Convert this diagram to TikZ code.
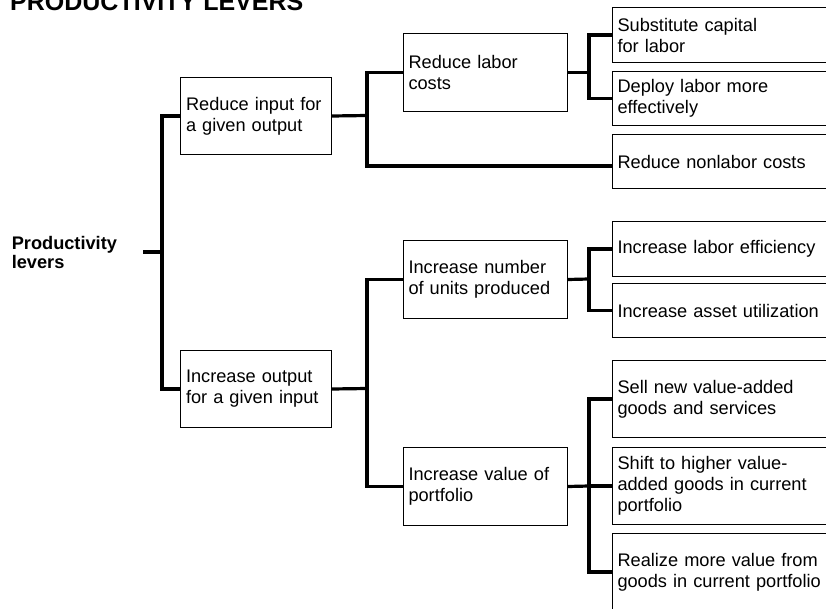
\documentclass[tikz,border=0pt]{standalone}
\usepackage{fontspec}
\setmainfont{Liberation Sans}
\begin{document}
\begin{tikzpicture}[x=1pt,y=-1pt,
  every node/.style={font=\fontsize{18.2pt}{21pt}\selectfont, text=black},
  box/.style={draw=black, line width=1pt, rectangle, anchor=north west,
    inner xsep=5.5pt, inner ysep=0pt, align=left},
  lvlone/.style={box, minimum width=151pt, text width=140pt, minimum height=77pt},
  lvltwo/.style={box, minimum width=164.5pt, text width=153.5pt, minimum height=78pt},
  leaf/.style={box, minimum width=240pt, text width=229pt, minimum height=#1},
  leaf/.default=55pt,
  conn/.style={draw=black, line width=3.2pt, line join=miter}
]
\useasboundingbox (0,0) rectangle (826,609);
\clip (0,0) rectangle (826,609);

% heading and root label
\node[anchor=base west, inner sep=0pt, font=\fontsize{25pt}{28pt}\selectfont\bfseries]
  (title) at (10,11) {PRODUCTIVITY LEVERS};
\node[anchor=east, inner sep=0pt, text width=131pt, align=left,
  font=\fontsize{18.2pt}{19pt}\selectfont\bfseries]
  (root) at (143,252) {Productivity\\levers};

% first level
\node[lvlone] (b1) at (180,77) {Reduce input for\\a given output};
\node[lvlone] (b2) at (180,350) {Increase output\\for a given input};

% second level
\node[lvltwo] (b11) at (402.5,33) {Reduce labor\\costs};
\node[lvltwo] (b21) at (402.5,240) {Increase number\\of units produced};
\node[lvltwo] (b22) at (402.5,447) {Increase value of\\portfolio};

% leaves
\node[leaf] (b111) at (611.5,7) {Substitute capital\\for labor};
\node[leaf=54pt] (b112) at (611.5,71) {Deploy labor more\\effectively};
\node[leaf=54pt] (b12) at (611.5,134) {Reduce nonlabor costs};
\node[leaf] (b211) at (611.5,221) {Increase labor efficiency};
\node[leaf=54pt] (b212) at (611.5,283) {Increase asset utilization};
\node[leaf=77pt] (b221) at (611.5,360) {Sell new value-added\\goods and services};
\node[leaf=77pt] (b222) at (611.5,447) {Shift to higher value-\\added goods in current\\portfolio};
\node[leaf=77pt] (b223) at (611.5,533) {Realize more value from\\goods in current portfolio};

% junction points of the tree
\coordinate (j0) at (162,252);
\coordinate (j1) at (367,115.5);
\coordinate (j2) at (589,72.5);
\coordinate (j3) at (367,388.5);
\coordinate (j4) at (589,279);
\coordinate (j5) at (589,486);

% connectors
\draw[conn] (root.east) -- (j0);
\draw[conn] (b1.west) -| (j0);
\draw[conn] (b2.west) -| (j0);

\draw[conn] (b1.east) -- (j1);
\draw[conn] (b11.west) -| (j1);
\draw[conn] ([yshift=-4.5pt]b12.west) -| (j1);

\draw[conn] (b11.east) -- (j2);
\draw[conn] (b111.west) -| (j2);
\draw[conn] (b112.west) -| (j2);

\draw[conn] (b2.east) -- (j3);
\draw[conn] (b21.west) -| (j3);
\draw[conn] (b22.west) -| (j3);

\draw[conn] (b21.east) -- (j4);
\draw[conn] (b211.west) -| (j4);
\draw[conn] (b212.west) -| (j4);

\draw[conn] (b22.east) -- (j5);
\draw[conn] (b221.west) -| (j5);
\draw[conn] (b222.west) -- (j5);
\draw[conn] (b223.west) -| (j5);
\end{tikzpicture}
\end{document}
